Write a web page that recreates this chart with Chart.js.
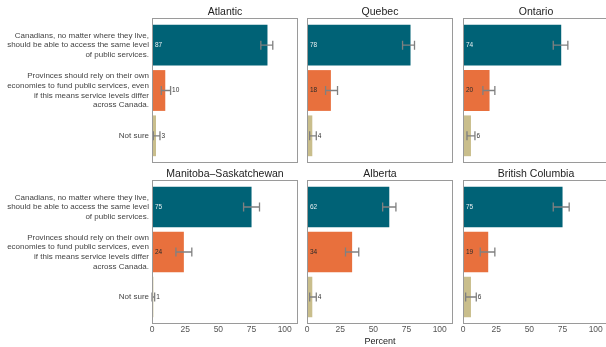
<!DOCTYPE html>
<html>
<head>
<meta charset="utf-8">
<script src="https://cdn.jsdelivr.net/npm/chart.js@4.4.0/dist/chart.umd.min.js"></script>
<style>
  body { margin: 0; background: #fff; overflow: hidden; width: 606px; height: 347px; position: relative; }
  canvas { position: absolute; }
</style>
</head>
<body>
<canvas id="p0"></canvas>
<canvas id="p1"></canvas>
<canvas id="p2"></canvas>
<canvas id="p3"></canvas>
<canvas id="p4"></canvas>
<canvas id="p5"></canvas>
<script>
// Datos
const categorias = [
    ['Canadians, no matter where they live,', 'should be able to access the same level', 'of public services.'],
    ['Provinces should rely on their own', 'economies to fund public services, even', 'if this means service levels differ', 'across Canada.'],
    ['Not sure']
];
const regiones = ['Atlantic', 'Quebec', 'Ontario', 'Manitoba–Saskatchewan', 'Alberta', 'British Columbia'];
const valores   = [[87, 10, 3], [78, 18, 4], [74, 20, 6], [75, 24, 1], [62, 34, 4], [75, 19, 6]];
const errorBajo = [[82, 7, 1],  [72, 14, 2], [68, 15, 3], [69, 18, 0], [57, 29, 2], [68, 13, 2]];
const errorAlto = [[91, 14, 6], [81, 23, 7], [79, 24, 9], [81, 30, 2], [67, 39, 7], [80, 24, 10]];
const ticksX = [0, 25, 50, 75, 100];
const colores = ['#006276', '#e8703d', '#c9be8c'];
const colorTexto = ['#e6eef0', '#2a2a2a', '#333'];

// Posicion de cada panel en la pagina (ejeY = ancho reservado a la izquierda)
const paneles = [
    { left: 0,   top: 0,   w: 298, h: 164, ejeY: 152 },
    { left: 301, top: 0,   w: 152, h: 164, ejeY: 6 },
    { left: 457, top: 0,   w: 152, h: 164, ejeY: 6 },
    { left: 0,   top: 162, w: 298, h: 185, ejeY: 152 },
    { left: 301, top: 162, w: 152, h: 185, ejeY: 6 },
    { left: 457, top: 162, w: 152, h: 185, ejeY: 6 }
];

const fuente = '"Liberation Sans", Arial, sans-serif';

// Marco gris alrededor del area del grafico
const marco = {
    id: 'marco',
    afterDraw(chart) {
        const { ctx, chartArea: a } = chart;
        ctx.save();
        ctx.strokeStyle = '#9a9a9a';
        ctx.lineWidth = 1;
        ctx.strokeRect(a.left + 0.5, a.top + 0.5, a.right - a.left - 1, a.bottom - a.top - 1);
        ctx.restore();
    }
};

// Barras de error y etiquetas de valor
const barrasError = {
    id: 'barrasError',
    afterDatasetsDraw(chart, args, opts) {
        const { ctx, scales: { x } } = chart;
        const i = opts.panel;
        const meta = chart.getDatasetMeta(0);
        ctx.save();
        meta.data.forEach((bar, k) => {
            const lo = x.getPixelForValue(errorBajo[i][k]);
            const hi = x.getPixelForValue(errorAlto[i][k]);
            const y = bar.y;
            ctx.strokeStyle = '#808080';
            ctx.lineWidth = 1.3;
            ctx.beginPath();
            ctx.moveTo(lo, y); ctx.lineTo(hi, y);
            ctx.moveTo(lo, y - 4.5); ctx.lineTo(lo, y + 4.5);
            ctx.moveTo(hi, y - 4.5); ctx.lineTo(hi, y + 4.5);
            ctx.stroke();

            const v = valores[i][k];
            ctx.font = '6.5px ' + fuente;
            ctx.textBaseline = 'middle';
            ctx.textAlign = 'left';
            if (v >= 15) {
                ctx.fillStyle = colorTexto[k];
                ctx.fillText(String(v), x.getPixelForValue(0) + 3, y);
            } else {
                ctx.fillStyle = '#333';
                ctx.fillText(String(v), hi + 1.5, y);
            }
        });
        ctx.restore();
    }
};

const graficos = paneles.map((p, i) => {
    const cv = document.getElementById('p' + i);
    cv.width = p.w;
    cv.height = p.h;
    cv.style.left = p.left + 'px';
    cv.style.top = p.top + 'px';
    cv.style.width = p.w + 'px';
    cv.style.height = p.h + 'px';

    const izquierda = (i % 3 === 0);
    const abajo = (i >= 3);

    return new Chart(cv, {
        type: 'bar',
        data: {
            datasets: [{
                data: valores[i].map((v, k) => ({ x: v, y: k })),
                xAxisID: 'x',
                yAxisID: 'y',
                backgroundColor: colores,
                borderWidth: 0,
                categoryPercentage: 0.9,
                barPercentage: 1.0
            }]
        },
        options: {
            indexAxis: 'y',
            responsive: false,
            animation: false,
            devicePixelRatio: 1,
            layout: { padding: { left: 0, right: 0, top: 0, bottom: abajo ? 0 : 1 } },
            plugins: {
                legend: { display: false },
                tooltip: { enabled: false },
                barrasError: { panel: i }
            },
            scales: {
                // eje superior solo para el titulo del panel, centrado sobre el area
                titulo: {
                    type: 'linear',
                    axis: 'x',
                    position: 'top',
                    min: 0,
                    max: 1,
                    grid: { display: false, drawTicks: false },
                    border: { display: false },
                    ticks: { display: false },
                    afterFit: (s) => { s.height = 18; s.paddingLeft = 0; s.paddingRight = 0; },
                    title: {
                        display: true,
                        text: regiones[i],
                        color: '#222',
                        padding: { top: 5.5, bottom: 0 },
                        font: { family: fuente, size: 10.5 }
                    }
                },
                x: {
                    type: 'linear',
                    position: 'bottom',
                    min: 0,
                    max: 110,
                    offset: false,
                    display: abajo,
                    grid: { display: false, drawTicks: false },
                    border: { display: false },
                    afterBuildTicks: (s) => { s.ticks = ticksX.map(v => ({ value: v })); },
                    afterFit: (s) => {
                        if (abajo) s.height = 23;
                        s.paddingLeft = 0; s.paddingRight = 0;
                    },
                    ticks: {
                        padding: 1,
                        color: '#555',
                        font: { family: fuente, size: 8.5 }
                    },
                    title: {
                        display: i === 4,
                        text: 'Percent',
                        color: '#222',
                        padding: { top: 0, bottom: 0 },
                        font: { family: fuente, size: 9 }
                    }
                },
                y: {
                    type: 'linear',
                    position: 'left',
                    min: -0.6,
                    max: 2.6,
                    reverse: true,
                    offset: false,
                    grid: { display: false, drawTicks: false },
                    border: { display: false },
                    afterBuildTicks: (s) => { s.ticks = [0, 1, 2].map(v => ({ value: v })); },
                    afterFit: (s) => {
                        s.width = p.ejeY;
                        s.paddingTop = 0; s.paddingBottom = 0;
                    },
                    ticks: {
                        display: izquierda,
                        autoSkip: false,
                        padding: 3,
                        color: '#444',
                        font: { family: fuente, size: 8, lineHeight: 1.2 },
                        callback: (v) => categorias[v]
                    }
                }
            }
        },
        plugins: [barrasError, marco]
    });
});
</script>
</body>
</html>
